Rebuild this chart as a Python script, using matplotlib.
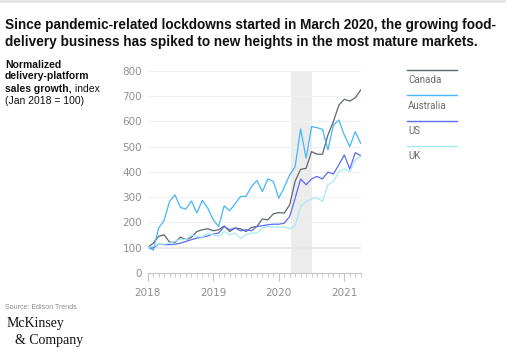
import numpy as np
import matplotlib
matplotlib.use("Agg")
import matplotlib.pyplot as plt
from matplotlib.patches import Rectangle

# monthly index, Jan 2018 .. Apr 2021
canada = [101, 118, 145, 151, 122, 121, 142, 132, 141, 164, 171, 175,
          167, 171, 186, 164, 178, 175, 164, 180, 184, 214, 210, 234,
          239, 237, 270, 364, 410, 414, 480, 470, 470, 546, 599, 664,
          687, 680, 693, 724]
australia = [105, 90, 178, 208, 283, 309, 259, 253, 285, 237, 287, 257,
             210, 184, 266, 246, 274, 303, 303, 342, 366, 322, 372, 362,
             296, 339, 388, 421, 570, 454, 579, 575, 568, 487, 585, 605,
             546, 500, 559, 513]
us = [101, 99, 114, 112, 112, 114, 118, 125, 132, 138, 141, 147,
      154, 158, 184, 171, 178, 167, 171, 167, 184, 187, 191, 193,
      193, 197, 224, 296, 372, 349, 372, 382, 372, 399, 392, 428,
      467, 411, 476, 464]
uk = [101, 105, 114, 114, 118, 125, 134, 132, 151, 145, 141, 158,
      151, 145, 164, 151, 158, 136, 151, 158, 158, 178, 184, 182,
      182, 182, 175, 188, 263, 283, 293, 299, 283, 349, 362, 401,
      412, 401, 447, 461]

series_names = ["Canada", "Australia", "US", "UK"]
series_colors = ["#5d6670", "#45b7f5", "#5d6cf0", "#a5e9f7"]
series_data = [canada, australia, us, uk]

year_labels = ["2018", "2019", "2020", "2021"]
y_ticks = [0, 100, 200, 300, 400, 500, 600, 700, 800]
lockdown = (26.2, 30.0)  # months since Jan 2018

fig = plt.figure(figsize=(5.12, 3.61), dpi=100)
ax = fig.add_axes([0.2885, 0.2438, 0.416, 0.5602])

months = np.arange(len(canada))
ax.axvspan(*lockdown, color="#ececec", lw=0, zorder=0)
for v in y_ticks[1:]:
    ax.axhline(v, color="#e6e6e6" if v == 100 else "#f0f0f0",
               lw=1.3 if v == 100 else 0.8, zorder=1)

for name, col, vals in zip(series_names, series_colors, series_data):
    ax.plot(months, vals, color=col, lw=0.9, zorder=3)

ax.set_xlim(0, len(canada) - 1)
ax.set_ylim(0, 800)
ax.set_yticks(y_ticks)
ax.set_xticks(np.arange(len(year_labels)) * 12)
ax.set_xticklabels(year_labels)
ax.set_xticks(months, minor=True)
for s in ["top", "right", "left"]:
    ax.spines[s].set_visible(False)
ax.spines["bottom"].set_color("#c4c4c4")
ax.spines["bottom"].set_linewidth(0.8)
ax.tick_params(axis="y", length=0, pad=4, labelsize=7.5, labelcolor="#8f8f8f")
ax.tick_params(axis="x", which="major", length=6, color="#c4c4c4",
               labelsize=7.5, labelcolor="#8f8f8f", pad=5)
ax.tick_params(axis="x", which="minor", length=3, color="#c4c4c4")

# legend as stacked lines with labels underneath
for i, (name, col) in enumerate(zip(series_names, series_colors)):
    y = 0.805 - i * 0.0695
    fig.add_artist(plt.Line2D([0.795, 0.893], [y, y], color=col, lw=1.0,
                              transform=fig.transFigure))
    fig.text(0.797, y - 0.014, name, fontsize=7, color="#6a6a6a",
             va="top", ha="left", family="Roboto")

# top strip
fig.add_artist(Rectangle((0, 0.992), 0.988, 0.008, color="#e6e6e6",
                         transform=fig.transFigure, lw=0))

fig.text(0.01, 0.95, "Since pandemic-related lockdowns started in March 2020, the growing food-\n"
         "delivery business has spiked to new heights in the most mature markets.",
         fontsize=9.8, fontweight="bold", family="Liberation Sans", va="top",
         ha="left", color="#111111", linespacing=1.28)

# y-axis caption, bold part + regular part
lab_kw = dict(fontsize=7.5, family="Liberation Sans", color="#111111", va="top", ha="left")
fig.text(0.01, 0.835, "Normalized\ndelivery-platform", fontweight="bold",
         linespacing=1.2, **lab_kw)
t = fig.text(0.01, 0.768, "sales growth,", fontweight="bold", **lab_kw)
fig.canvas.draw()
bb = t.get_window_extent().transformed(fig.transFigure.inverted())
fig.text(bb.x1, 0.768, " index", **lab_kw)
fig.text(0.01, 0.735, "(Jan 2018 = 100)", **lab_kw)

fig.text(0.01, 0.148, "Source: Edison Trends", fontsize=5, color="#8a8a8a",
         family="Liberation Sans", va="center")
fig.text(0.012, 0.103, "McKinsey", fontsize=10, family="Liberation Serif",
         color="#111111", va="center")
fig.text(0.03, 0.058, "& Company", fontsize=10, family="Liberation Serif",
         color="#111111", va="center")

fig.savefig("out.png", dpi=100)
